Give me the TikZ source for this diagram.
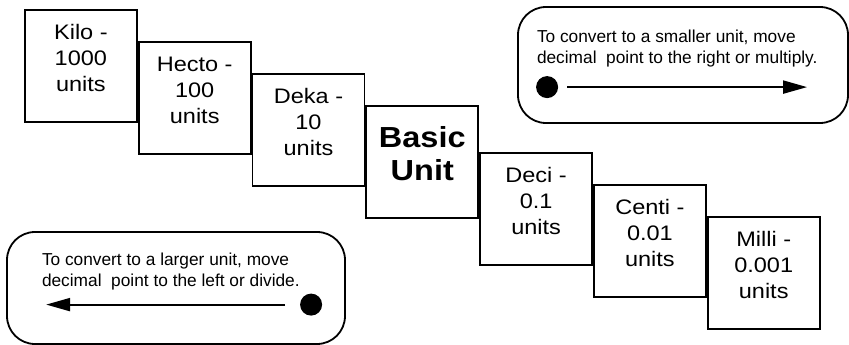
\documentclass[tikz,border=0pt]{standalone}
\usepackage{fontspec}
\setmainfont{Liberation Sans}
\newfontfamily\boxfont[FakeStretch=1.12]{Liberation Sans}
\usetikzlibrary{positioning,arrows.meta}

\begin{document}
\begin{tikzpicture}
		[x=1pt,y=-1pt,line width=1.8pt,
		unitbox/.style={draw,rectangle,minimum width=112pt,minimum height=112pt,
			inner sep=0pt,align=center,text depth=16pt,
			font=\boxfont\fontsize{21}{26}\selectfont},
		tipbox/.style={draw,rectangle,rounded corners=28pt,inner sep=0pt},
		tiptext/.style={anchor=north west,align=left,inner sep=0pt,
			font=\fontsize{17.3}{21}\selectfont},
		dot/.style={circle,fill,minimum size=22pt,inner sep=0pt},
		move/.style={-{Triangle[length=24pt,width=13pt]},line width=2pt}]
		\useasboundingbox (0,0) rectangle (849,345);
		% the staircase of prefixes
		\node[unitbox,anchor=north west] (kilo) at (24,9) {Kilo -\\1000\\units};
		\node[unitbox,anchor=north west] (hecto) at ([yshift=-32pt]kilo.north east) {Hecto -\\100\\units};
		\node[unitbox,anchor=north west] (deka) at ([yshift=-32pt]hecto.north east) {Deka -\\10\\units};
		\node[unitbox,anchor=north west,font=\boxfont\fontsize{29}{33}\selectfont\bfseries] (basic)
			at ([yshift=-32pt]deka.north east) {Basic\\Unit};
		\node[unitbox,anchor=north west] (deci) at ([yshift=-47pt]basic.north east) {Deci -\\0.1\\units};
		\node[unitbox,anchor=north west] (centi) at ([yshift=-32pt]deci.north east) {Centi -\\0.01\\units};
		\node[unitbox,anchor=north west] (milli) at ([yshift=-32pt]centi.north east) {Milli -\\0.001\\units};
		% moving to a smaller unit
		\node[tipbox,minimum width=330pt,minimum height=116pt] (smaller) at (683,65) {};
		\node[tiptext] (smallert) at ([shift={(19,23)}]smaller.north west)
			{To convert to a smaller unit, move\\decimal~ point to the right or multiply.};
		\node[dot] (sdot) at ([shift={(30,81)}]smaller.north west) {};
		\coordinate (send) at ([shift={(290,81)}]smaller.north west);
		\draw[move] ([xshift=8pt]sdot.east) -- (send);
		% moving to a larger unit
		\node[tipbox,minimum width=338pt,minimum height=112pt] (larger) at (176,288) {};
		\node[tiptext] (largert) at ([shift={(35,21)}]larger.north west)
			{To convert to a larger unit, move\\decimal~ point to the left or divide.};
		\node[dot] (ldot) at ([shift={(305,73.5)}]larger.north west) {};
		\coordinate (lend) at ([shift={(40,73.5)}]larger.north west);
		\draw[move] ([xshift=-14pt]ldot.west) -- (lend);
\end{tikzpicture}
\end{document}
